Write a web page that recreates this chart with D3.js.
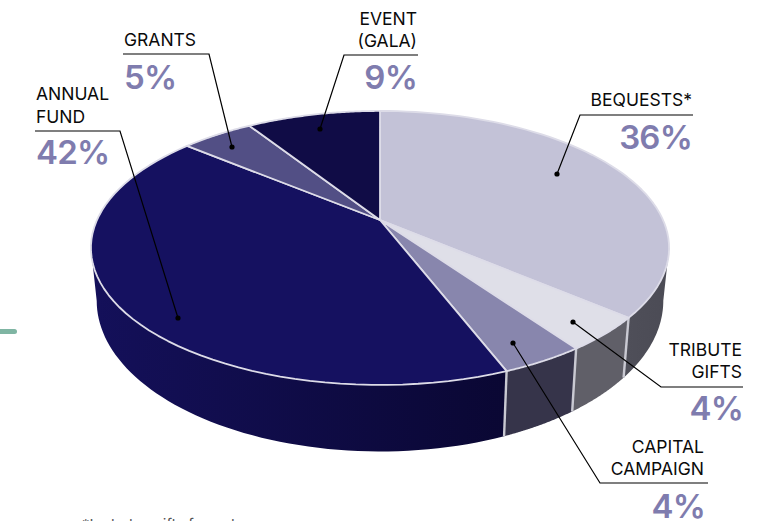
<!DOCTYPE html>
<html>
<head>
<meta charset="utf-8">
<script src="https://cdn.jsdelivr.net/npm/d3@7"></script>
<style>
  html, body { margin: 0; background: #fff; }
  svg { display: block; }
  text { font-family: Inter, sans-serif; }
</style>
</head>
<body>
<svg id="chart"></svg>
<script>
const categories = ["BEQUESTS*", "TRIBUTE GIFTS", "CAPITAL CAMPAIGN", "ANNUAL FUND", "GRANTS", "EVENT (GALA)"];
const shares = [36.2, 4.0, 3.9, 41.9, 4.9, 9.1];
const shareLabels = ["36%", "4%", "4%", "42%", "5%", "9%"];
const topColors = ["#c3c2d7", "#dfdfe8", "#8886ad", "#151160", "#524f85", "#100c46"];
const wallLeft = ["#4f4f59", "#605f68", "#36344a", "#14105a", "#000", "#000"];
const wallRight = ["#4b4b55", "#605f68", "#36344a", "#0a0733", "#000", "#000"];

// label layout: dot, elbow, end of rule, text anchor and baselines
const callouts = [
  { dot: [557, 174], elbow: [580, 115], end: 693, x: 692, px: 692, anchor: "end", lines: ["BEQUESTS*"], y: [106], py: 149 },
  { dot: [573, 322], elbow: [661, 387], end: 743, x: 742, px: 743, anchor: "end", lines: ["TRIBUTE", "GIFTS"], y: [356, 378], py: 420 },
  { dot: [513, 343], elbow: [600, 483], end: 708, x: 704, px: 705, anchor: "end", lines: ["CAPITAL", "CAMPAIGN"], y: [453, 475], py: 518 },
  { dot: [178, 318], elbow: [120, 131], end: 35, x: 36, px: 36, anchor: "start", lines: ["ANNUAL", "FUND"], y: [100, 123], py: 164 },
  { dot: [232, 147], elbow: [209, 54], end: 123, x: 124, px: 124, anchor: "start", lines: ["GRANTS"], y: [46], py: 89 },
  { dot: [320, 129], elbow: [344, 55], end: 418, x: 417, px: 417, anchor: "end", lines: ["EVENT", "(GALA)"], y: [25, 47], py: 89 }
];

const width = 775;
const height = 521;

// tilted disc: perspective on a unit circle, centre of the disc is the slices' apex
const cx = 380;
const apexY = 220;
const radiusX = 283;
const radiusY = 131.3;
const tilt = 0.204;

function project(angle, r = 1, floor = false) {
  const u = r * Math.sin(angle);
  const v = -r * Math.cos(angle);
  const w = 1 - tilt * v;
  const x = radiusX * u / w;
  const y = radiusY * v / w;
  return floor ? [cx + 0.98 * x, 270 + 1.1 * y] : [cx + x, apexY + y];
}

function arcPoints(a0, a1, floor) {
  return d3.range(0, 61).map(i => project(a0 + (a1 - a0) * i / 60, 1, floor));
}

const pie = d3.pie().sort(null).value(d => d);
const arcs = pie(shares);

const svg = d3.select("#chart").attr("width", width).attr("height", height);
const defs = svg.append("defs");
defs.append("filter").attr("id", "soft")
  .attr("color-interpolation-filters", "sRGB")
  .append("feGaussianBlur").attr("stdDeviation", 0.45);

const line = d3.line();

// side wall, only the part facing us
const wallStart = Math.acos(-tilt);
const wallEnd = 2 * Math.PI - wallStart;
const walls = arcs
  .map((d, i) => ({
    i,
    a0: Math.max(d.startAngle, wallStart),
    a1: Math.min(d.endAngle, wallEnd)
  }))
  .filter(d => d.a1 > d.a0);

walls.forEach(d => {
  const grad = defs.append("linearGradient").attr("id", `wall-${d.i}`)
    .attr("gradientUnits", "objectBoundingBox");
  grad.append("stop").attr("offset", 0).attr("stop-color", wallLeft[d.i]);
  grad.append("stop").attr("offset", 1).attr("stop-color", wallRight[d.i]);
});

const chart = svg.append("g").attr("filter", "url(#soft)");

chart.selectAll("path.wall")
  .data(walls)
  .join("path")
  .attr("class", "wall")
  .attr("d", d => line([...arcPoints(d.a0, d.a1, false), ...arcPoints(d.a1, d.a0, true)]) + "Z")
  .attr("fill", d => `url(#wall-${d.i})`);

// light seams between wall pieces
chart.selectAll("path.seam")
  .data(walls.slice(0, -1))
  .join("path")
  .attr("class", "seam")
  .attr("d", d => line([project(d.a1), project(d.a1, 1, true)]))
  .attr("stroke", "#c9c9d2")
  .attr("stroke-width", 2.4)
  .attr("fill", "none");

chart.selectAll("path.slice")
  .data(arcs)
  .join("path")
  .attr("class", "slice")
  .attr("d", d => line([[cx, apexY], ...arcPoints(d.startAngle, d.endAngle, false)]) + "Z")
  .attr("fill", (d, i) => topColors[i])
  .attr("stroke", "#dddce8")
  .attr("stroke-width", 1.8)
  .attr("stroke-linejoin", "round");

// callouts
const labels = svg.selectAll("g.callout")
  .data(callouts)
  .join("g")
  .attr("class", "callout");

labels.append("path")
  .attr("d", d => line([d.dot, d.elbow, [d.end, d.elbow[1]]]))
  .attr("fill", "none")
  .attr("stroke", "#000")
  .attr("stroke-width", 1.2);

labels.append("circle")
  .attr("cx", d => d.dot[0])
  .attr("cy", d => d.dot[1])
  .attr("r", 2.6)
  .attr("fill", "#000");

labels.each(function (d, i) {
  const g = d3.select(this);
  d.lines.forEach((t, j) => {
    g.append("text")
      .attr("x", d.x)
      .attr("y", d.y[j])
      .attr("text-anchor", d.anchor)
      .style("font-size", "17.5px")
      .attr("fill", "#0a0a0a")
      .text(t);
  });
  g.append("text")
    .attr("x", d.px)
    .attr("y", d.py)
    .attr("text-anchor", d.anchor)
    .style("font-size", "33px")
    .style("font-weight", 600)
    .style("letter-spacing", "-0.8px")
    .attr("fill", "#7f7cae")
    .text(shareLabels[i]);
});

// green tab on the left edge and the footnote cut off by the page
svg.append("rect")
  .attr("x", -6)
  .attr("y", 329)
  .attr("width", 23)
  .attr("height", 5)
  .attr("rx", 2.5)
  .attr("fill", "#7fb5a3");

svg.append("text")
  .attr("x", 82)
  .attr("y", 530)
  .style("font-size", "15px")
  .attr("fill", "#555")
  .text("*Includes gifts from donors");
</script>
</body>
</html>
